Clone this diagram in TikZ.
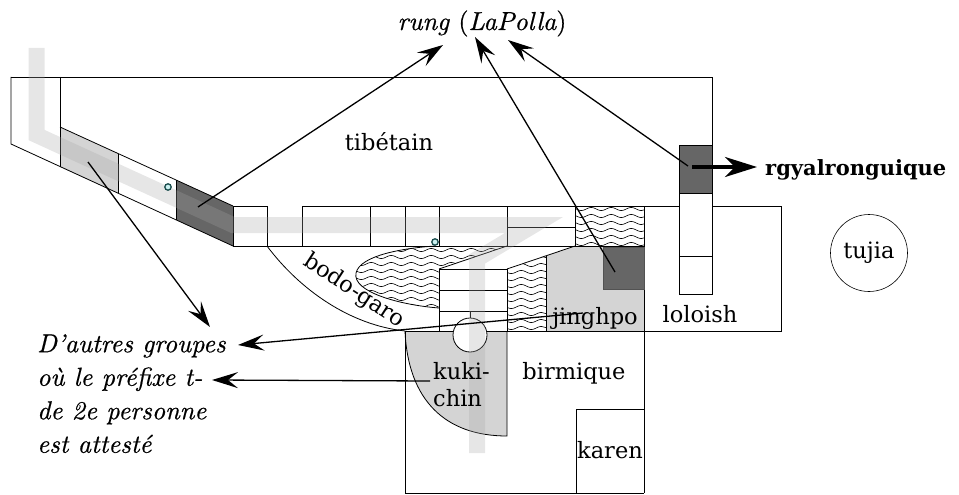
\documentclass[tikz,border=0pt]{standalone}
\usepackage{fontspec}
\setmainfont{DejaVu Serif}
\newfontfamily\lmfont{lmroman10-regular.otf}[ItalicFont=lmroman10-italic.otf,FakeBold=0.6]
\usetikzlibrary{arrows.meta,decorations.pathmorphing}
\definecolor{lgray}{gray}{0.83}
\definecolor{dgray}{gray}{0.4}
\definecolor{bandc}{gray}{0.65}
\definecolor{dotdraw}{rgb}{0.1,0.3,0.3}
\definecolor{dotfill}{rgb}{0.8,0.95,0.95}
\tikzset{
  ln/.style={line width=0.8pt},
  wave/.style={decorate,decoration={snake,segment length=20pt,amplitude=1.6pt},line width=0.6pt},
  lbl/.style={font=\fontsize{22.5}{27}\selectfont, inner sep=0pt},
  itl/.style={font=\fontsize{26}{33.5}\selectfont\lmfont\itshape, inner sep=0pt},
  arr/.style={-{Stealth[length=26pt,width=16pt,inset=10pt]}, line width=1.3pt},
  thickarr/.style={-{Stealth[length=32pt,width=20pt,inset=10pt]}, line width=3.5pt},
  dot/.style={draw=dotdraw, fill=dotfill, line width=1.3pt}
}
\begin{document}
\begin{tikzpicture}[x=1pt,y=-1pt,line join=miter]
\useasboundingbox (0,0) rectangle (959,495);
% fills
\fill[lgray] (60,127) -- (118,153.5) -- (118,193.2) -- (60,167) -- cycle;
\fill[dgray] (176,180) -- (233,206) -- (233,246) -- (176,219.8) -- cycle;
\fill[lgray] (546,256) -- (575,246) -- (644,246) -- (644,331) -- (546,331) -- cycle;
\fill[dgray] (603,247) rectangle (644,289);
\fill[lgray] (405,331) -- (507,331) -- (507,436) .. controls (445,436) and (408,400) .. (405,331) -- cycle;
% waves
\begin{scope}
  \clip (575,206) rectangle (644,246);
  \foreach \yy in {209,216,...,244} \draw[wave] (565,\yy) -- (650,\yy);
\end{scope}
\begin{scope}
  \clip (439,308) .. controls (400,305) and (352,292) .. (356,273) .. controls (360,255) and (405,248) .. (435,246) -- (507,246) -- (439,269) -- cycle;
  \foreach \yy in {250,257,...,307} \draw[wave] (345,\yy) -- (515,\yy);
\end{scope}
\begin{scope}
  \clip (507,269) -- (546,256) -- (546,331) -- (507,331) -- cycle;
  \foreach \yy in {258,265,...,330} \draw[wave] (495,\yy) -- (555,\yy);
\end{scope}
% outlines
\draw[ln] (11,77) -- (712,77) -- (712,206);
\draw[ln] (11,77) -- (11,144) -- (233,246);
\draw[ln] (60,77) -- (60,167);
\draw[ln] (60,127) -- (233,206);
\draw[ln] (118,153.5) -- (118,193.2);
\draw[ln] (176,180) -- (176,219.8);
\draw[ln] (233,206) -- (267,206);
\draw[ln] (302,206) -- (781,206) -- (781,331) -- (405,331);
\draw[ln] (233,246) -- (644,246);
\foreach \xx in {233,267,302,370,405,439,507,575} \draw[ln] (\xx,206) -- (\xx,246);
\draw[ln] (507,227) -- (575,227);
\draw[ln] (644,206) -- (644,493);
\draw[ln] (267,246) .. controls (300,290) and (350,325) .. (405,331);
\draw[ln] (435,246) .. controls (405,248) and (360,255) .. (356,273) .. controls (352,292) and (400,305) .. (439,308);
\draw[ln] (507,246) -- (439,269);
\draw[ln] (575,246) -- (507,269);
\draw[ln] (439,269) rectangle (507,331);
\draw[ln] (439,290) -- (507,290);
\draw[ln] (439,311) -- (507,311);
\draw[ln] (470,311) -- (470,318);
\draw[ln] (546,256) -- (546,331);
\draw[ln] (507,331) -- (507,436) .. controls (445,436) and (408,400) .. (405,331);
\draw[ln] (405,331) -- (405,493) -- (644,493);
\draw[ln] (576,493) -- (576,409) -- (644,409);
\draw[ln,draw=dgray!80!black] (603,247) rectangle (644,289);
% rgyalrong column
\draw[ln,fill=white] (679,145) rectangle (712,294);
\draw[ln,fill=dgray] (679,145) rectangle (712,193);
\draw[ln] (679,256) -- (712,256);
% circle
\draw[ln,fill=white] (470,335) circle (17);
% translucent band
\draw[line width=16pt, bandc, opacity=0.28] (36.5,48) -- (36.5,135) -- (233,225) -- (534,225) -- (477,259) -- (477,453);
% dots
\draw[dot] (168,187) circle (3.2);
\draw[dot] (435,242) circle (3.2);
% labels
\node[lbl, anchor=base] (tib) at (389,150) {tibétain};
\node[lbl, anchor=base west, font=\fontsize{21}{27}\selectfont\bfseries] (rgy) at (765,175) {rgyalronguique};
\node[lbl, draw, circle, line width=0.6pt, minimum size=77pt] (tuj) at (869,253) {tujia};
\node[lbl, anchor=base] (lolo) at (700,322) {loloish};
\node[lbl, anchor=base] (jing) at (595,324) {jinghpo};
\node[lbl, anchor=base] (birm) at (574,379) {birmique};
\node[lbl, anchor=base] (karen) at (610,458) {karen};
\node[lbl, align=left, anchor=north west] (kuki) at (433,362) {kuki-\\chin};
\node[lbl, rotate=-33] (bodo) at (354,291) {bodo-garo};
\node[itl, anchor=base] (rung) at (482,30) {rung \upshape(\itshape LaPolla\upshape)};
\node[itl, align=left, anchor=north west] (autres) at (37,334) {D’autres groupes\\où le préfixe t-\\de 2e personne\\est attesté};
% arrow endpoints
\coordinate (s1) at (88,162);   \coordinate (t1) at (210,327);
\coordinate (s2) at (198,207);  \coordinate (t2) at (443,45);
\coordinate (s3) at (615,272);  \coordinate (t3) at (475,37);
\coordinate (s4) at (688,166);  \coordinate (t4) at (508,40);
\coordinate (s5) at (692,167);  \coordinate (t5) at (757,167);
\coordinate (s6) at (583,313);  \coordinate (t6) at (238,345);
\coordinate (s7) at (430,381);  \coordinate (t7) at (212,380);
\draw[arr] (s1) -- (t1);
\draw[arr] (s2) -- (t2);
\draw[arr] (s3) -- (t3);
\draw[arr] (s4) -- (t4);
\draw[thickarr] (s5) -- (t5);
\draw[arr] (s6) -- (t6);
\draw[arr] (s7) -- (t7);
\end{tikzpicture}
\end{document}
